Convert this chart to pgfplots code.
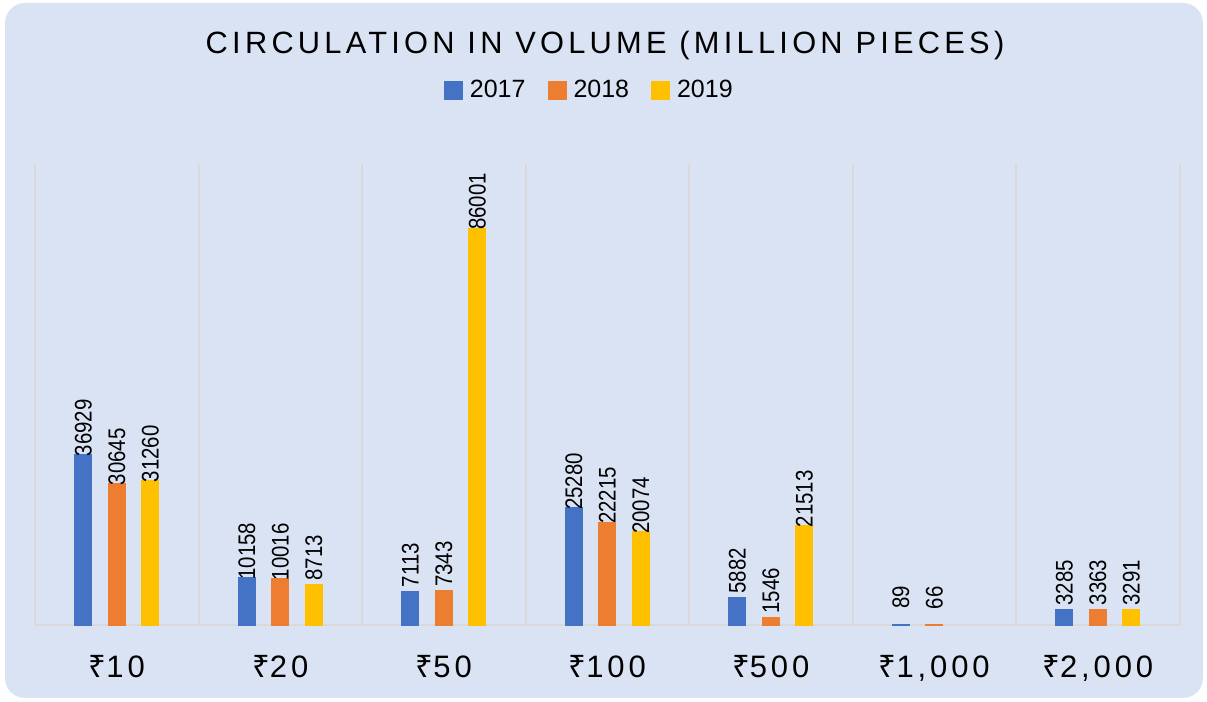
\documentclass[border=0pt]{standalone}
\usepackage{graphicx}
\usepackage{fontspec}
\setmainfont{Liberation Sans}
\newfontfamily\titlefont[LetterSpace=13.8]{Liberation Sans}
\newfontfamily\tickfont[LetterSpace=12.5]{Liberation Sans}
\newfontfamily\rupeefont[LetterSpace=12.5]{Noto Sans}
\usepackage{pgfplots}
\usepackage{pgfplotstable}
\pgfplotsset{compat=1.18}
\definecolor{bgblue}{HTML}{DAE3F3}
\definecolor{gridgray}{HTML}{D9D9D9}
\definecolor{c17}{HTML}{4472C4}
\definecolor{c18}{HTML}{ED7D31}
\definecolor{c19}{HTML}{FFC000}
\newcommand\Rs{{\rupeefont\fontsize{15.5bp}{18bp}\selectfont ₹}}
\pgfplotstableread{
x y17 y18 y19
0 36929 30645 31260
1 10158 10016 8713
2 7113 7343 86001
3 25280 22215 20074
4 5882 1546 21513
5 89 66 nan
6 3285 3363 3291
}\datatable
\begin{document}
\begin{tikzpicture}[x=1bp,y=1bp]
\path[use as bounding box] (0,0) rectangle (603.5,350.5);
\fill[bgblue, rounded corners=10bp] (2.5,1.5) rectangle (601.5,349);
\node[anchor=base, inner sep=0pt] at (302.5,324) {\titlefont\fontsize{15.4bp}{18bp}\selectfont CIRCULATION IN VOLUME (MILLION PIECES)};
\begin{axis}[
  at={(17.5bp,38bp)}, anchor=south west,
  scale only axis, width=572.25bp, height=230.5bp,
  xmin=-0.5, xmax=6.5, ymin=0, ymax=100000,
  enlargelimits=false,
  ybar=8.75bp, bar width=8bp,
  axis x line*=bottom, axis y line=none,
  x axis line style={draw=gridgray, line width=1bp, -},
  xtick={0,...,6},
  xticklabels={{\Rs10},{\Rs20},{\Rs50},{\Rs100},{\Rs500},{\Rs{}1,000},{\Rs{}2,000}},
  xticklabel style={font=\tickfont\fontsize{15.5bp}{18bp}\selectfont, anchor=base, yshift=-26bp, inner sep=0pt},
  ytick=\empty,
  major tick length=0pt, minor tick length=0pt,
  minor xtick={-0.5,0.5,...,6.5},
  xminorgrids=true,
  minor grid style={draw=gridgray, line width=1bp},
  nodes near coords={\scalebox{0.85}[1]{\pgfmathprintnumber[fixed,precision=0,1000 sep={},assume math mode=true]{\pgfplotspointmeta}}},
  every node near coord/.append style={font=\fontsize{12bp}{14bp}\selectfont, anchor=center, rotate=90, xshift=13.5bp, inner sep=0pt, text=black},
  legend columns=-1,
  legend style={at={(axis description cs:0.4852,1.1605)}, anchor=center, draw=none, fill=none, font=\fontsize{12.5bp}{14bp}\selectfont,
    /tikz/every odd column/.append style={column sep=1.5bp},
    /tikz/every even column/.append style={column sep=9bp}},
  legend image code/.code={\fill[#1] (0bp,-4.25bp) rectangle (8.5bp,4.25bp);},
]
\addplot[fill=c17, draw=c17, line width=1bp] table[x=x, y=y17] {\datatable};
\addplot[fill=c18, draw=c18, line width=1bp] table[x=x, y=y18] {\datatable};
\addplot[fill=c19, draw=c19, line width=1bp] table[x=x, y=y19] {\datatable};
\legend{2017,2018,2019}
\end{axis}
\end{tikzpicture}
\end{document}
